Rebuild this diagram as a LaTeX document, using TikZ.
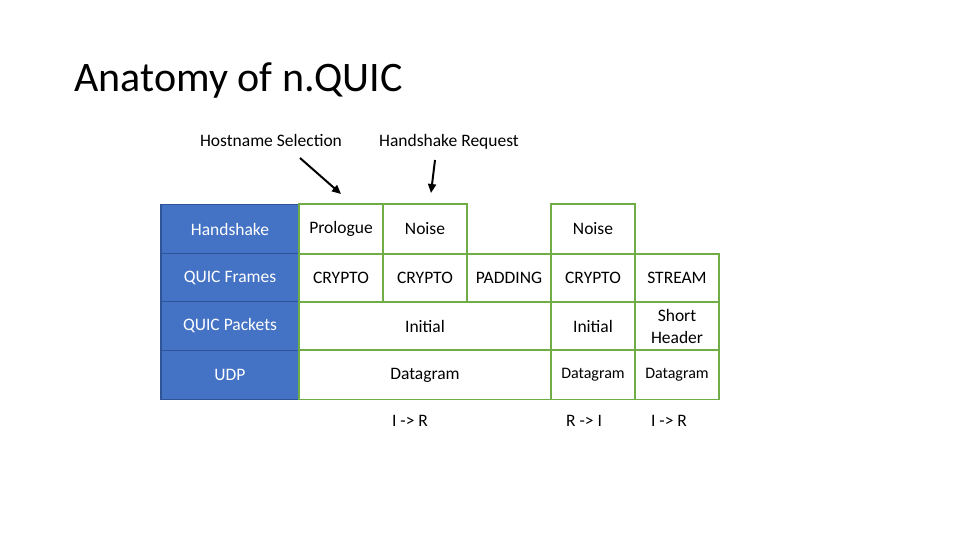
\documentclass[tikz,border=0pt]{standalone}
\usepackage{fontspec}
\setmainfont{Carlito}
\usetikzlibrary{arrows.meta}
\definecolor{hdrblue}{HTML}{4472C4}
\definecolor{hdredge}{HTML}{2F5597}
\definecolor{celledge}{HTML}{70AD47}
\tikzset{
  cell/.style={draw=celledge, line width=1.6pt, inner sep=1pt, align=center, font=\fontsize{17.5}{22}\selectfont},
  hdr/.style={fill=hdrblue, draw=hdredge, line width=1.4pt, text=white, minimum width=138pt, minimum height=48.5pt, font=\fontsize{17.5}{22}\selectfont},
  lbl/.style={font=\fontsize{17.5}{22}\selectfont},
  pointer/.style={line width=2pt, -{Triangle[length=9pt,width=8pt]}}
}
\begin{document}
\begin{tikzpicture}[x=1pt,y=1pt]
\useasboundingbox (0,0) rectangle (960,-540);
\node[anchor=west, font=\fontsize{42}{48}\selectfont] (title) at (71,-80) {Anatomy of n.QUIC};

% left header column
\foreach \r/\t/\y in {hs/Handshake/-229, fr/QUIC Frames/-278, pk/QUIC Packets/-326, udp/UDP/-375}
  \node[hdr] (\r) at (230,\y) {\t};

% row 1: handshake
\node[cell, minimum width=84pt, minimum height=50pt] (prologue) at (341,-229) {Prologue};
\node[cell, minimum width=84pt, minimum height=50pt] (noiseA) at (425,-229) {Noise};
\node[cell, minimum width=84pt, minimum height=50pt] (noiseB) at (593,-229) {Noise};

% row 2: frames
\foreach \n/\t/\x in {cryA/CRYPTO/341, cryB/CRYPTO/425, pad/PADDING/509, cryC/CRYPTO/593, stream/STREAM/677}
  \node[cell, minimum width=84pt, minimum height=48pt] (\n) at (\x,-278) {\t};

% row 3: packets
\node[cell, minimum width=252pt, minimum height=48pt] (initA) at (425,-326) {Initial};
\node[cell, minimum width=84pt, minimum height=48pt] (initB) at (593,-326) {Initial};
\node[cell, minimum width=84pt, minimum height=48pt] (short) at (677,-326) {Short\\Header};

% row 4: udp
\node[cell, minimum width=252pt, minimum height=49pt] (dgA) at (425,-375) {Datagram};
\node[cell, minimum width=84pt, minimum height=49pt, font=\fontsize{16}{19}\selectfont] (dgB) at (593,-375) {Datagram};
\node[cell, minimum width=84pt, minimum height=49pt, font=\fontsize{16}{19}\selectfont] (dgC) at (677,-375) {Datagram};

% directions
\node[lbl] (dirA) at (410,-421) {I -> R};
\node[lbl] (dirB) at (584,-421) {R -> I};
\node[lbl] (dirC) at (669,-421) {I -> R};

% annotations
\node[lbl] (hostsel) at (271,-140) {Hostname Selection};
\node[lbl] (hsreq) at (449,-142) {Handshake Request};
\coordinate (hostTip) at (341,-194);
\coordinate (reqTip) at (431,-193);
\draw[pointer] (300,-158) -- (hostTip);
\draw[pointer] (435,-160) -- (reqTip);
\end{tikzpicture}
\end{document}
